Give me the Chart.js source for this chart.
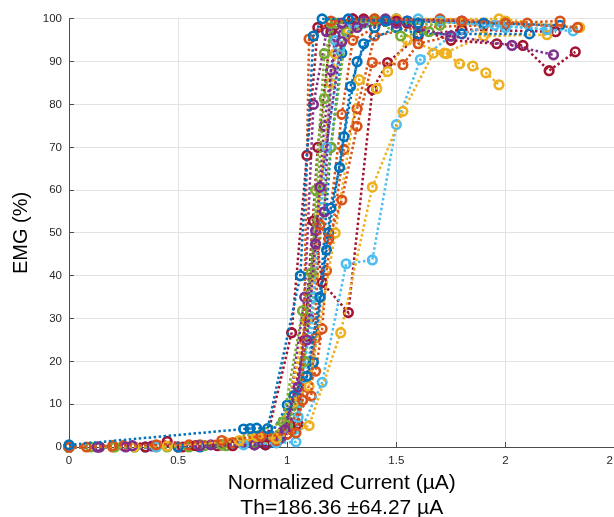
<!DOCTYPE html>
<html lang="en">
  <head>
    <meta charset="UTF-8" />
    <title>EMG recruitment curves</title>
    <script src="https://cdn.jsdelivr.net/npm/chart.js"></script>
    <style>
      html, body { margin: 0; padding: 0; background: #fff; overflow: hidden; }
      #wrap { width: 640px; height: 517px; position: relative; }
    </style>
  </head>
  <body>
    <div id="wrap"><canvas id="emgChart"></canvas></div>

    <script>
      // one array of [current, emg %] pairs per recording
      const blue1 = [[0,0.5],[0.8,4.2],[0.83,4.3],[0.86,4.4],[0.91,4.3],[1.06,40],[1.12,96],[1.16,100],[1.28,100],[1.45,99.5],[1.6,99]];
      const orange1 = [[0,0],[0.08,0],[0.2,0.3],[0.4,0.5],[0.7,1.5],[0.88,2.5],[1.04,3.3],[1.07,10.9],[1.1,95.3],[1.2,99.5],[1.4,100],[1.8,99.5],[2.33,98]];
      const yellow1 = [[0,0],[0.45,0.2],[0.78,1.5],[0.86,2.5],[0.95,2],[1.1,5],[1.245,26.7],[1.39,60.7],[1.53,78.4],[1.67,92],[1.73,91.9],[1.79,89.5],[1.85,89],[1.91,87.4],[1.97,84.6]];
      const purple1 = [[0,0],[0.13,0],[0.29,0.3],[0.6,0.3],[0.85,0.5],[0.99,4],[1.09,25],[1.13,47.4],[1.15,60.7],[1.25,94.7],[1.32,98],[1.5,99],[1.75,96],[2.03,93.8],[2.22,91.6]];
      const green1 = [[0,0],[0.1,0],[0.21,0],[0.45,0],[0.7,0.5],[0.98,5.8],[1.07,31.8],[1.11,40.7],[1.17,81.4],[1.2,99],[1.4,100],[1.52,96],[1.65,97]];
      const lightblue1 = [[0,0],[0.4,0],[0.8,0.5],[1.04,1.2],[1.16,15.1],[1.27,42.8],[1.39,43.7],[1.5,75.3],[1.61,90.5],[1.75,96],[1.95,98.5],[2.19,97.5],[2.31,97.2]];
      const darkred1 = [[0,0],[0.13,0],[0.45,1.3],[0.58,0.3],[0.75,0.3],[0.9,0.5],[1.02,26.7],[1.09,68.1],[1.14,98],[1.3,100],[1.5,99.5],[1.75,95],[1.96,94.2],[2.08,93.8],[2.2,87.9],[2.32,92.3]];

      const blue2 = [[0,0],[0.5,0],[0.9,0.5],[1.0,9.8],[1.09,16.5],[1.15,35],[1.2,55.8],[1.24,65.3],[1.29,84.2],[1.35,94.2],[1.5,98],[1.6,96.5],[1.8,96.5],[2.11,96.5]];
      const orange2 = [[0,0],[0.2,0],[0.55,0.5],[0.75,1],[0.95,1.5],[1.11,11.9],[1.15,51.9],[1.19,48.6],[1.25,57.7],[1.32,74.9],[1.39,89.8],[1.53,89.3],[1.6,94.2],[1.75,96],[2.0,99],[2.25,99.5]];
      const yellow2 = [[0,0],[0.3,0],[0.72,1],[0.82,2.5],[0.9,2],[1.03,10.5],[1.1,14.2],[1.22,50],[1.33,85.8],[1.41,83.7],[1.46,87.7],[1.55,95],[1.72,92],[1.9,96],[2.19,96.3]];
      const purple2 = [[0,0],[0.14,0],[0.38,0.2],[0.65,0.5],[0.8,0.8],[0.97,2],[1.05,14],[1.13,50.5],[1.17,54.9],[1.2,88],[1.25,99],[1.45,100],[1.8,99.5]];
      const green2 = [[0,0],[0.14,0],[0.55,0],[0.62,0.3],[0.85,1],[1.0,5],[1.08,20],[1.13,60],[1.17,91.9],[1.22,99],[1.4,99.5],[1.7,98.5]];
      const lightblue2 = [[0,0],[0.3,0],[0.75,0.5],[0.95,1],[1.05,7],[1.12,35],[1.18,70],[1.24,93],[1.3,99],[1.6,100],[2.0,98]];
      const darkred2 = [[0,0],[0.35,0],[0.68,0.3],[0.95,1],[1.05,5.3],[1.12,52.8],[1.16,38.4],[1.28,31.4],[1.39,83.5],[1.46,89.8],[1.6,96],[1.8,97.5],[2.23,97]];

      const blue3 = [[0,0],[0.35,0],[0.75,0.4],[0.96,2],[1.03,12],[1.12,19.8],[1.18,46],[1.19,50],[1.26,72.5],[1.32,90],[1.4,98],[1.55,99.5],[1.9,99],[2.25,98.5]];
      const orange3 = [[0,0],[0.5,0],[0.85,1],[1.0,3],[1.13,17.7],[1.16,27.6],[1.18,41.2],[1.26,69.5],[1.32,79],[1.4,96],[1.6,98],[1.9,98.5]];
      const yellow3 = [[0,0],[0.55,0.3],[0.85,2],[0.97,3],[1.09,29.5],[1.15,60],[1.22,91.9],[1.3,99],[1.5,100],[1.97,100],[2.34,98]];
      const purple3 = [[0,0],[0.26,0],[0.7,0.5],[0.9,1],[1.0,6],[1.08,35],[1.12,80],[1.18,97],[1.35,99.5],[1.6,99]];
      const green3 = [[0,0],[0.3,0],[0.72,0.3],[0.95,2],[1.05,10],[1.12,35],[1.2,70],[1.27,97],[1.45,99.5]];
      const lightblue3 = [[0,0],[0.6,0.3],[0.9,1],[1.03,4],[1.1,20],[1.16,60],[1.22,95],[1.35,99],[1.7,99.5],[2.2,97.5]];
      const darkred3 = [[0,0],[0.52,0],[0.85,0.5],[1.0,3],[1.08,25],[1.14,70],[1.2,97],[1.35,100],[1.55,99]];

      const blue4 = [[0,0],[0.6,0],[0.92,1],[1.0,6],[1.09,16.5],[1.15,35],[1.2,70],[1.25,92],[1.3,99],[1.5,100],[1.7,99.5],[2.0,98.8]];
      const orange4 = [[0,0],[0.25,0.3],[0.6,0.5],[0.93,2],[1.04,5],[1.13,25.5],[1.25,77.7],[1.3,95],[1.45,99.5],[1.7,100],[2.1,99]];
      const yellow4 = [[0,0],[0.4,0],[0.78,1.2],[0.92,2],[1.0,5],[1.12,40],[1.2,85],[1.28,97],[1.45,99.5],[1.8,99],[2.0,99.5]];
      const purple4 = [[0,0],[0.5,0],[0.88,1],[1.02,4],[1.1,30],[1.17,75],[1.22,96],[1.3,100],[1.55,99.5]];

      const xTitle = ["Normalized Current (\u00b5A)", "Th=186.36 \u00b164.27 \u00b5A"];
      const yTitle = "EMG (%)";

      // matlab default line colours, cycled in plot order
      const palette = ["#0072BD", "#D95319", "#EDB120", "#7E2F8E", "#77AC30", "#4DBEEE", "#A2142F"];
      const recordings = [
        blue1, orange1, yellow1, purple1, green1, lightblue1, darkred1,
        blue2, orange2, yellow2, purple2, green2, lightblue2, darkred2,
        blue3, orange3, yellow3, purple3, green3, lightblue3, darkred3,
        blue4, orange4, yellow4, purple4,
      ];

      const datasets = recordings.map(function (rec, i) {
        const col = palette[i % palette.length];
        return {
          data: rec.map(function (p) { return { x: p[0], y: p[1] }; }),
          showLine: true,
          borderColor: col,
          backgroundColor: "rgba(255,255,255,0)",
          borderWidth: 2.5,
          borderDash: [2.5, 2.5],
          pointStyle: "circle",
          pointRadius: 4.3,
          pointBorderWidth: 2.6,
          pointBorderColor: col,
          pointBackgroundColor: "rgba(255,255,255,0)",
          tension: 0,
          clip: false,
        };
      });

      const ctx = document.getElementById("emgChart").getContext("2d");
      new Chart(ctx, {
        type: "scatter",
        data: { datasets: datasets },
        options: {
          responsive: true,
          maintainAspectRatio: false,
          animation: false,
          layout: { padding: { left: 0, right: 25.4, top: 17, bottom: 0 } },
          plugins: { legend: { display: false }, tooltip: { enabled: false } },
          scales: {
            x: {
              type: "linear",
              min: 0,
              max: 2.5,
              afterFit: function (s) { s.height = 70; },
              border: { color: "#4d4d4d", width: 1 },
              grid: { color: "#e3e3e3", tickColor: "#4d4d4d", tickLength: -5 },
              ticks: {
                stepSize: 0.5,
                padding: 12,
                color: "#262626",
                font: { family: "'Liberation Sans', Arial, sans-serif", size: 11.5 },
                callback: function (v) { return String(v); },
              },
              title: {
                display: true,
                text: xTitle,
                color: "#000",
                padding: { top: 0, bottom: -4 },
                font: { family: "'Liberation Sans', Arial, sans-serif", size: 21, lineHeight: 1.2 },
              },
            },
            y: {
              type: "linear",
              min: 0,
              max: 100,
              afterFit: function (s) { s.width = 69; },
              border: { color: "#4d4d4d", width: 1 },
              grid: { color: "#e3e3e3", tickColor: "#4d4d4d", tickLength: -5 },
              ticks: {
                stepSize: 10,
                padding: 12,
                color: "#262626",
                font: { family: "'Liberation Sans', Arial, sans-serif", size: 11.5 },
              },
              title: {
                display: true,
                text: yTitle,
                color: "#000",
                padding: { top: 9, bottom: 0 },
                font: { family: "'Liberation Sans', Arial, sans-serif", size: 20, lineHeight: 1.2 },
              },
            },
          },
        },
      });
    </script>
  </body>
</html>
